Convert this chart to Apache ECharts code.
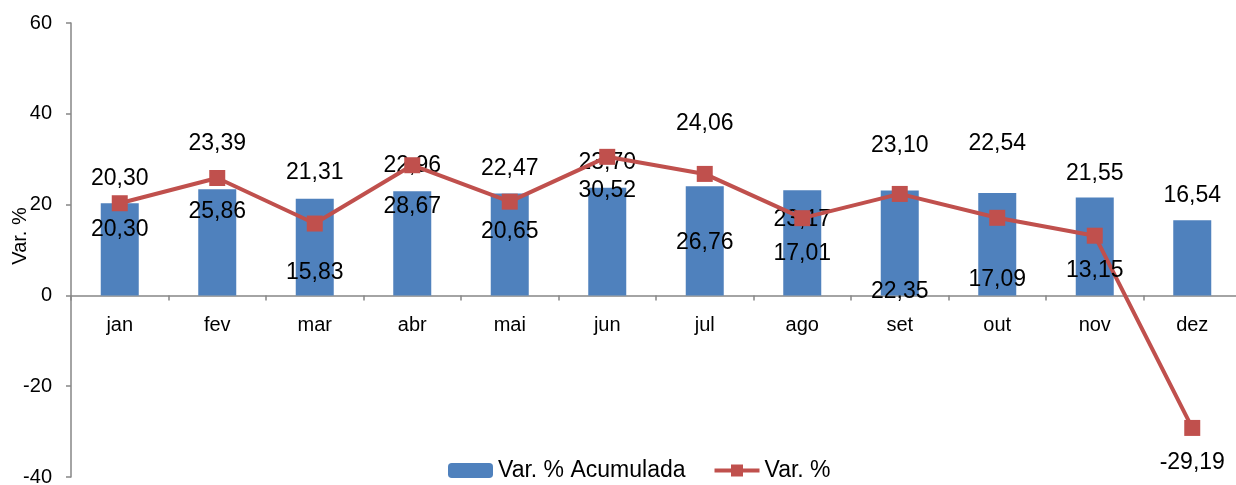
<!DOCTYPE html>
<html>
<head>
<meta charset="utf-8">
<script src="https://cdn.jsdelivr.net/npm/echarts@6/dist/echarts.min.js"></script>
<style>html,body{margin:0;padding:0;background:#fff;}#c{width:1236px;height:485px;}</style>
</head>
<body>
<div id="c"></div>
<script>
const categories = ['jan','fev','mar','abr','mai','jun','jul','ago','set','out','nov','dez'];
const varAcumulada = [20.30, 23.39, 21.31, 22.96, 22.47, 23.70, 24.06, 23.17, 23.10, 22.54, 21.55, 16.54];
const varMensal = [20.30, 25.86, 15.83, 28.67, 20.65, 30.52, 26.76, 17.01, 22.35, 17.09, 13.15, -29.19];
const yTicks = [-40, -20, 0, 20, 40, 60];
const seriesNames = ['Var. % Acumulada', 'Var. %'];
const axisName = 'Var. %';

// label placement (style, not data): vertical offset of label centre from the mark, px
const barLabelDy = [-25, -46, -26, -26, -25, -25, -63, 29, -45, -49, -24, -25];
const lineLabelDy = [26, 34, 49, 41, 30, 34, 69, 35, 98, 62, 35, 35];

const FONT = '"Liberation Sans", Arial, sans-serif';
const fmt = v => v.toFixed(2).replace('.', ',');
const LH = 24;

const GRID_TOP = 23, GRID_BOTTOM = 8, H = 485;
const plotH = H - GRID_TOP - GRID_BOTTOM;
const yMin = yTicks[0], yMax = yTicks[yTicks.length - 1];
// shift the category axis up so that it sits on the value 0
const zeroShift = -plotH * (0 - yMin) / (yMax - yMin);

const chart = echarts.init(document.getElementById('c'), null, {renderer: 'canvas'});
chart.setOption({
  animation: false,
  backgroundColor: '#fff',
  textStyle: {fontFamily: FONT},
  grid: {left: 71, right: -5, top: GRID_TOP, bottom: GRID_BOTTOM, containLabel: false, outerBoundsMode: 'none'},
  legend: {
    left: 443, top: 454,
    itemWidth: 45, itemHeight: 15, itemGap: 27,
    lineStyle: {width: 4},
    textStyle: {fontSize: 23, color: '#000', fontFamily: FONT},
    data: seriesNames
  },
  xAxis: {
    type: 'category',
    data: categories,
    position: 'bottom',
    offset: zeroShift,
    axisLine: {onZero: false, lineStyle: {color: '#868686', width: 1.5}},
    axisTick: {show: true, length: 5, lineStyle: {color: '#868686', width: 1.5}},
    axisLabel: {fontSize: 20, color: '#000', margin: 20, fontFamily: FONT},
    splitLine: {show: false}
  },
  yAxis: {
    type: 'value',
    min: yMin, max: yMax, interval: 20,
    axisLine: {show: true, lineStyle: {color: '#868686', width: 1.5}},
    axisTick: {show: true, length: 5, lineStyle: {color: '#868686', width: 1.5}},
    axisLabel: {fontSize: 20, color: '#000', margin: 19, fontFamily: FONT},
    splitLine: {show: false}
  },
  graphic: [{
    type: 'text', x: 20, y: 236, rotation: Math.PI / 2,
    style: {text: axisName, font: '20px ' + FONT, fill: '#000', align: 'center', verticalAlign: 'middle'}
  }],
  series: [
    {
      name: seriesNames[0],
      type: 'bar',
      z: 2,
      barWidth: 38,
      itemStyle: {color: '#4F81BD'},
      data: varAcumulada.map((v, i) => ({
        value: v,
        label: {
          show: true, position: 'top', distance: 0,
          offset: [0, barLabelDy[i] + LH / 2],
          formatter: p => fmt(p.value),
          fontSize: 23, lineHeight: LH, color: '#000', fontFamily: FONT
        }
      }))
    },
    {
      name: seriesNames[1],
      type: 'line',
      z: 2,
      symbol: 'rect',
      symbolSize: 16,
      lineStyle: {color: '#C0504D', width: 4},
      itemStyle: {color: '#C0504D'},
      data: varMensal.map((v, i) => ({
        value: v,
        label: {
          show: true, position: 'inside',
          offset: [0, lineLabelDy[i]],
          formatter: p => fmt(p.value),
          fontSize: 23, lineHeight: LH, color: '#000', fontFamily: FONT
        }
      }))
    }
  ]
});
</script>
</body>
</html>
